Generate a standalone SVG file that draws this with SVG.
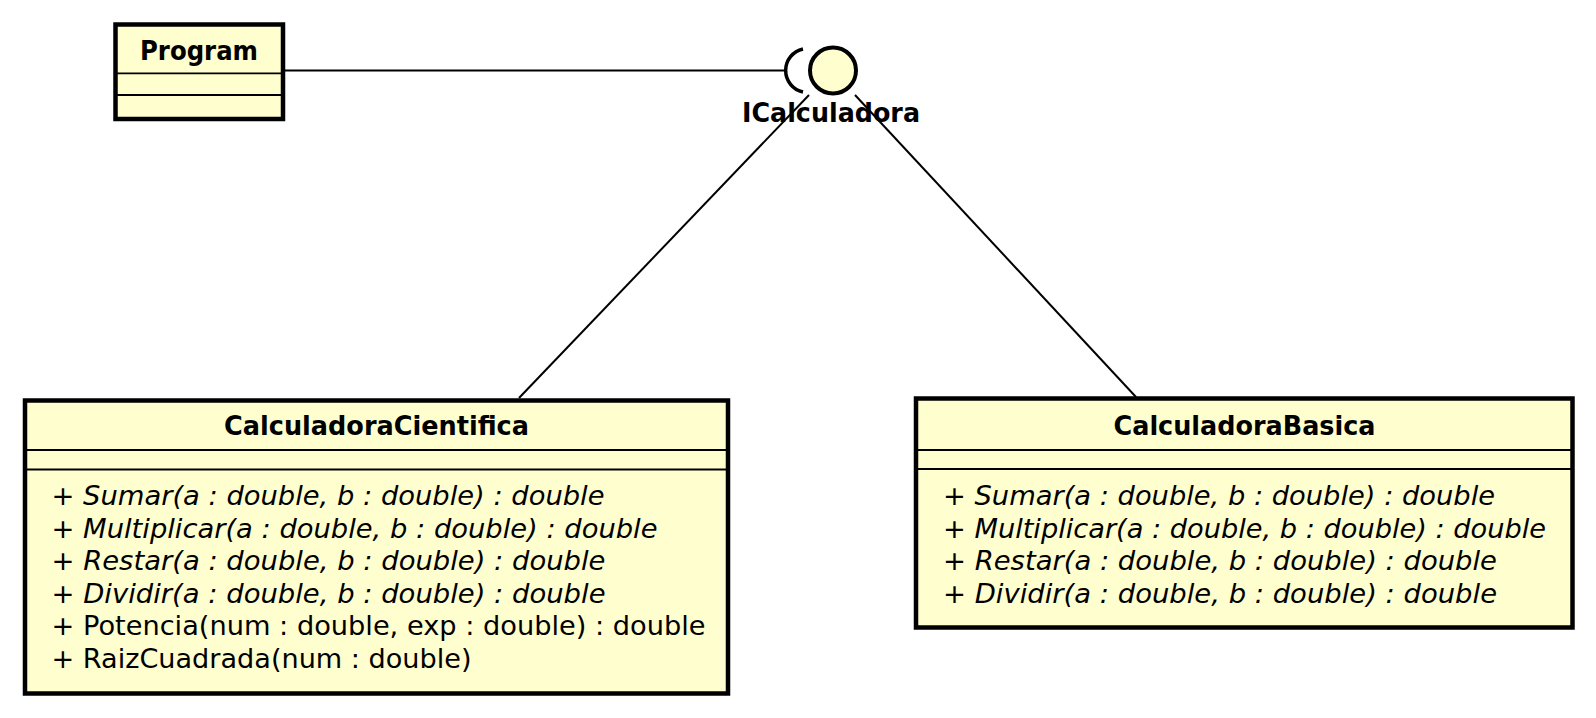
<svg xmlns="http://www.w3.org/2000/svg" width="1596" height="718" viewBox="0 0 1596 718">
<style>
.box{fill:#FEFECE;stroke:#000;stroke-width:4.5}
.div{stroke:#000;stroke-width:1.8}
.edge{stroke:#000;stroke-width:2;fill:none}
.title{font-family:"DejaVu Sans",sans-serif;font-weight:bold;font-size:26px;fill:#000;text-anchor:middle}
.mem{font-family:"DejaVu Sans",sans-serif;font-size:27px;fill:#000}
.abs{font-style:italic}
</style>
<rect width="1596" height="718" fill="#fff"/>
<g id="connectors">
<line class="edge" x1="284" y1="70.5" x2="785" y2="70.5"/>
<line class="edge" x1="809" y1="95" x2="519" y2="398"/>
<line class="edge" x1="855" y1="95" x2="1136" y2="397"/>
</g>
<g id="Program">
<rect class="box" x="115.5" y="24.5" width="167.5" height="94.5"/>
<line class="div" x1="115.5" y1="73.3" x2="283" y2="73.3"/>
<line class="div" x1="115.5" y1="95" x2="283" y2="95"/>
<text class="title" x="199" y="60" textLength="118" lengthAdjust="spacingAndGlyphs">Program</text>
</g>
<g id="ICalculadora">
<path d="M803 49 A22 22 0 0 0 803 92" fill="none" stroke="#000" stroke-width="3.5"/>
<circle cx="833" cy="70.5" r="23" fill="#FEFECE" stroke="#000" stroke-width="4"/>
<text class="title" x="831" y="121.7" textLength="178" lengthAdjust="spacingAndGlyphs">ICalculadora</text>
</g>
<g id="CalculadoraCientifica">
<rect class="box" x="25" y="400.5" width="703" height="293"/>
<line class="div" x1="25" y1="450" x2="728" y2="450"/>
<line class="div" x1="25" y1="469.5" x2="728" y2="469.5"/>
<text class="title" x="376.5" y="435" textLength="305" lengthAdjust="spacingAndGlyphs">CalculadoraCientifica</text>
<text class="mem abs" x="51.5" y="505" textLength="553" lengthAdjust="spacingAndGlyphs">+ Sumar(a : double, b : double) : double</text>
<text class="mem abs" x="51.5" y="537.5" textLength="606" lengthAdjust="spacingAndGlyphs">+ Multiplicar(a : double, b : double) : double</text>
<text class="mem abs" x="51.5" y="570" textLength="554" lengthAdjust="spacingAndGlyphs">+ Restar(a : double, b : double) : double</text>
<text class="mem abs" x="51.5" y="602.5" textLength="554" lengthAdjust="spacingAndGlyphs">+ Dividir(a : double, b : double) : double</text>
<text class="mem" x="51.5" y="635" textLength="654" lengthAdjust="spacingAndGlyphs">+ Potencia(num : double, exp : double) : double</text>
<text class="mem" x="51.5" y="667.5" textLength="420" lengthAdjust="spacingAndGlyphs">+ RaizCuadrada(num : double)</text>
</g>
<g id="CalculadoraBasica">
<rect class="box" x="916" y="398.5" width="656.5" height="229"/>
<line class="div" x1="916" y1="450" x2="1572.5" y2="450"/>
<line class="div" x1="916" y1="469" x2="1572.5" y2="469"/>
<text class="title" x="1244.5" y="435" textLength="262" lengthAdjust="spacingAndGlyphs">CalculadoraBasica</text>
<text class="mem abs" x="943" y="505" textLength="552" lengthAdjust="spacingAndGlyphs">+ Sumar(a : double, b : double) : double</text>
<text class="mem abs" x="943" y="537.5" textLength="603" lengthAdjust="spacingAndGlyphs">+ Multiplicar(a : double, b : double) : double</text>
<text class="mem abs" x="943" y="570" textLength="554" lengthAdjust="spacingAndGlyphs">+ Restar(a : double, b : double) : double</text>
<text class="mem abs" x="943" y="602.5" textLength="554" lengthAdjust="spacingAndGlyphs">+ Dividir(a : double, b : double) : double</text>
</g>
</svg>
